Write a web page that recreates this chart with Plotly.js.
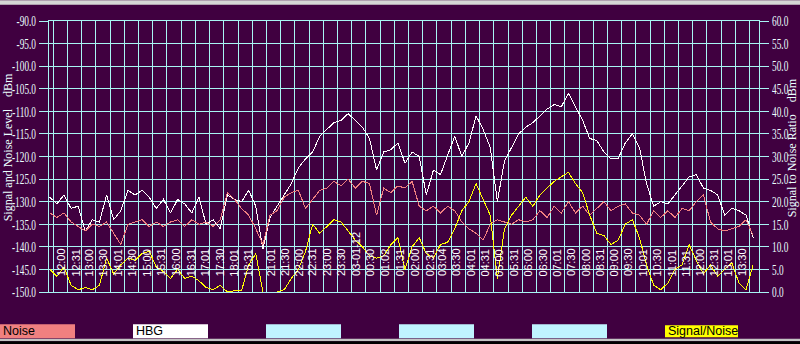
<!DOCTYPE html>
<html>
<head>
<meta charset="utf-8">
<script src="https://cdn.plot.ly/plotly-3.0.1.min.js"></script>
<style>html,body{margin:0;padding:0;background:#400040;}#chart{width:800px;height:344px;}
.scatterlayer path{shape-rendering:crispEdges;}
.gridlayer path,.xlines-above,.ylines-above{shape-rendering:crispEdges;}</style>
</head>
<body>
<div id="chart"></div>
<script>
// ---- data (sampled every half grid column along the time axis) ----
const hbg = [-129,-130.5,-128.5,-131.5,-131,-136.5,-134,-134.5,-128.5,-134,
  -132,-127.5,-128.5,-127.5,-129,-131.5,-129.5,-132.5,-129.5,-130.5,
  -132.5,-129,-135,-134,-136,-128.5,-129.5,-130,-127.5,-131,
  -140.5,-133.5,-131,-128.5,-126,-122.5,-120.5,-119,-115.5,-114,
  -112.5,-112,-110.5,-112,-113.5,-116,-123,-119,-118.5,-117,
  -121.5,-119,-120,-128.5,-123,-124,-119.5,-115.5,-120,-117,
  -111,-114,-118,-130,-121,-118,-115,-113.5,-112.5,-111,
  -109.5,-108.5,-109,-106,-109,-112,-116,-116.5,-119,-120.5,
  -120.5,-117,-115,-118,-126,-131,-130,-130.5,-128.5,-126.5,
  -124.5,-124,-127,-127.5,-128.5,-133,-131.5,-132,-133,-138];
const noise = [-132.5,-133.5,-132.5,-134.5,-135.5,-136.5,-135,-135.5,-134.5,-137,
  -139.5,-135,-134.5,-134,-135.5,-134.5,-135.5,-134.5,-134,-135.5,
  -134,-135,-134.5,-135.5,-134,-128,-129.5,-131.5,-133,-136,
  -139.5,-133,-132,-129,-128,-127.5,-131.5,-129.5,-127.5,-127,
  -125.5,-126.5,-125,-127,-125.5,-126,-133,-127,-128,-126.5,
  -127,-125.5,-131,-132,-131,-132.5,-131,-132,-134.5,-136,
  -137,-138.5,-135,-134,-134.5,-135,-134,-134.5,-134,-132,
  -133.5,-131,-132.5,-130,-132.5,-131,-133,-131.5,-130,-132,
  -131,-130.5,-132.5,-133,-135,-132,-133.5,-132,-133.5,-131.5,
  -132,-130,-128.5,-134.5,-136,-136.5,-136,-135.5,-134,-137.5];
const snr = [5,3.5,5.5,1.5,0.5,1,0.5,1.5,7.5,4,
  6,7.5,7,8.5,9,5.5,4.5,3,5,3,
  3.5,2.5,1,0.5,1.5,0,0.3,0.3,6,8.5,
  0,0,0,0.5,3,5,9,15,13,14.5,
  16,15.5,13.5,11.5,10,8,7.5,8,10.5,12,
  5,10,12,8.5,7.5,10.5,11,14,18,20,
  24,20.5,17,3,14,17,19,21,19,21.5,
  23,24.5,25.5,26.5,24,22,17,13,12.5,10.5,
  11.5,15,16,12,6,1.5,0.5,2,5,6,
  10.5,7,4,6,3.5,5,6.5,2,0.5,6];
const timeLabels = ['12:00','12:31','13:00','13:30','14:01','14:30','15:00','15:31','16:00','16:31',
  '17:01','17:30','18:01','18:31','21:01','21:30','22:00','22:31','23:00','23:30',
  '03-01-12','00:30','01:02','01:31','02:00','02:31','03:04','03:30','04:01','04:31',
  '05:00','05:31','06:00','06:30','07:01','07:30','08:00','08:31','09:00','09:30',
  '10:01','10:30','11:01','11:31','12:00','12:31','13:01','13:30'];
const timeLabelPos = [0.59,1.62,2.53,3.52,4.57,5.56,6.62,7.63,8.68,9.69,
  10.68,11.73,12.74,13.72,15.32,16.35,17.3,18.25,19.31,20.3,
  21.35,22.29,23.34,24.4,25.45,26.5,27.4,28.39,29.4,30.4,
  31.4,32.42,33.42,34.48,35.47,36.48,37.49,38.47,39.48,40.49,
  41.52,42.5,43.52,44.52,45.51,46.5,47.5,48.51];
const leftTickVals = [-90,-95,-100,-105,-110,-115,-120,-125,-130,-135,-140,-145,-150];
const leftTickText = ['-90.0','-95.0','-100.0','-105.0','-110.0','-115.0','-120.0','-125.0','-130.0','-135.0','-140.0','-145.0','-150.0'];
const rightTickVals = [0,5,10,15,20,25,30,35,40,45,50,55,60];
const rightTickText = ['0.0','5.0','10.0','15.0','20.0','25.0','30.0','35.0','40.0','45.0','50.0','55.0','60.0'];
const legendNames = ['Noise','HBG','','','','Signal/Noise'];

// ---- helpers ----
const X0 = -0.25, STEP = 0.5;
const xs = hbg.map((_, i) => X0 + i * STEP);
const PL = 49, PR = 759, PT = 20.7, PB = 291.7;
const px = v => (v - PL) / (PR - PL);
const py = v => (PB - v) / (PB - PT);

const BG = '#400040', GRID = '#a8f4f4', LBL = '#eaffff';
const serif = 'Liberation Serif, Times New Roman, serif';
const sans = 'Liberation Sans, Arial, sans-serif';

const traces = [
  {x: xs, y: hbg, type: 'scatter', mode: 'lines', line: {color: '#ffffff', width: 1}, name: 'HBG'},
  {x: xs, y: noise, type: 'scatter', mode: 'lines', line: {color: '#f08080', width: 1}, name: 'Noise'},
  {x: xs, y: snr, type: 'scatter', mode: 'lines', line: {color: '#ffff00', width: 1}, yaxis: 'y2', name: 'Signal/Noise'}
];

const annotations = [];
timeLabels.forEach((t, i) => {
  annotations.push({x: timeLabelPos[i], xref: 'x', y: py(278), yref: 'paper', text: t, textangle: -90,
    showarrow: false, xanchor: 'center', yanchor: 'bottom', font: {family: sans, size: 11, color: '#ffffff'}});
});
annotations.push({x: px(8), y: py(147), xref: 'paper', yref: 'paper', text: 'Signal and Noise Level\u00a0\u00a0\u00a0\u00a0dBm',
  textangle: -90, showarrow: false, xanchor: 'center', yanchor: 'middle', font: {family: serif, size: 12, color: LBL}});
annotations.push({x: px(792), y: py(148), xref: 'paper', yref: 'paper', text: 'Signal to Noise Ratio\u00a0\u00a0\u00a0\u00a0dBm',
  textangle: -90, showarrow: false, xanchor: 'center', yanchor: 'middle', font: {family: serif, size: 12, color: LBL}});

const shapes = [
  {type: 'rect', xref: 'paper', yref: 'paper', x0: px(0), x1: px(800), y0: py(0), y1: py(4.5), fillcolor: '#d6d6d6', line: {width: 0}},
  {type: 'rect', xref: 'paper', yref: 'paper', x0: px(0), x1: px(800), y0: py(338.5), y1: py(341), fillcolor: '#c4c4c4', line: {width: 0}},
  {type: 'rect', xref: 'paper', yref: 'paper', x0: px(0), x1: px(800), y0: py(341), y1: py(344), fillcolor: '#000000', line: {width: 0}}
];
const legendBoxes = [[0, 75, '#f08080'], [133, 208, '#ffffff'], [266, 341, '#c0f4ff'], [399, 474, '#c0f4ff'], [532, 607, '#c0f4ff'], [665, 738, '#ffff00']];
legendBoxes.forEach((b, i) => {
  const last = i === legendBoxes.length - 1;
  shapes.push({type: 'rect', xref: 'paper', yref: 'paper', x0: px(b[0]), x1: px(b[1]),
    y0: py(last ? 337 : 338), y1: py(last ? 325 : 324), fillcolor: b[2], line: {width: 0}});
  if (legendNames[i]) {
    annotations.push({x: px(b[0] + 1), y: py(331), xref: 'paper', yref: 'paper', text: legendNames[i], showarrow: false,
      xanchor: 'left', yanchor: 'middle', font: {family: sans, size: 12.5, color: '#000000'}});
  }
});

const layout = {
  width: 800, height: 344,
  margin: {l: PL, r: 800 - PR, t: PT, b: 344 - PB, pad: 0},
  paper_bgcolor: BG, plot_bgcolor: BG,
  showlegend: false,
  xaxis: {range: [(PL - 53.3) / 14.21, (PR - 53.3) / 14.21], tick0: 0, dtick: 1, showgrid: true, gridcolor: GRID, gridwidth: 1,
    showticklabels: false, ticks: '', zeroline: false, showline: true, mirror: true, linecolor: GRID, linewidth: 1, fixedrange: true},
  yaxis: {range: [-150, -90], tickvals: leftTickVals, ticktext: leftTickText, showgrid: true, gridcolor: GRID, gridwidth: 1,
    ticks: 'outside', ticklen: 9, tickcolor: GRID, tickwidth: 1, zeroline: false, showline: true, mirror: true, linecolor: GRID,
    tickfont: {family: serif, size: 15, color: LBL}, ticklabelstandoff: 0},
  yaxis2: {range: [0, 60], overlaying: 'y', side: 'right', tickvals: rightTickVals, ticktext: rightTickText, showgrid: false,
    ticks: 'outside', ticklen: 9, tickcolor: GRID, tickwidth: 1, zeroline: false, showline: false,
    tickfont: {family: serif, size: 15, color: LBL}, ticklabelstandoff: 0},
  annotations: annotations,
  shapes: shapes
};

Plotly.newPlot('chart', traces, layout, {staticPlot: true, displayModeBar: false}).then(() => {
  document.querySelectorAll('.ytick text, .y2tick text').forEach(t => {
    const w = t.getComputedTextLength();
    t.setAttribute('textLength', (w * 0.62).toFixed(1));
    t.setAttribute('lengthAdjust', 'spacingAndGlyphs');
  });
});
</script>
</body>
</html>
